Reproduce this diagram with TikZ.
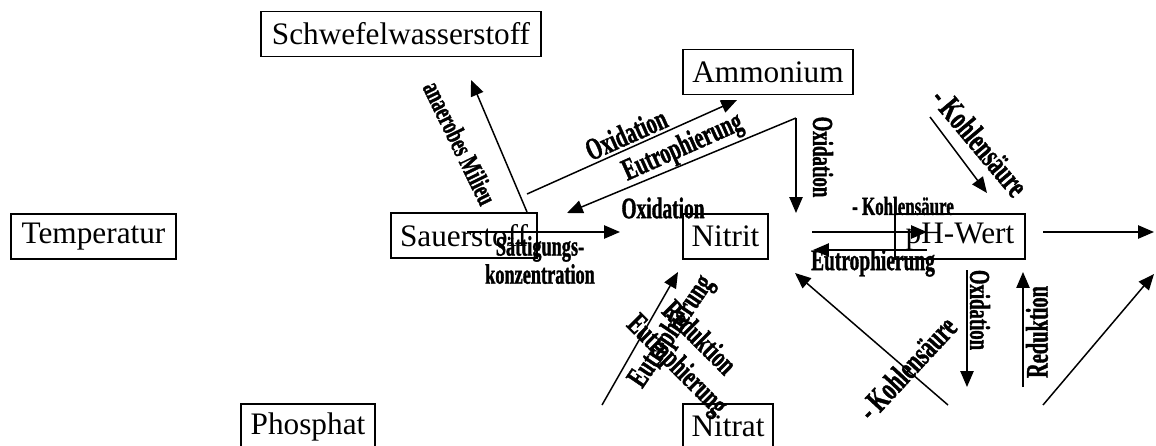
\documentclass[tikz,border=0pt]{standalone}
\usepackage{fontspec}
\setmainfont{Liberation Serif}
\newfontfamily\lblfont{Liberation Serif}[FakeStretch=0.65,FakeBold=1.2]
\usetikzlibrary{arrows.meta}

\begin{document}
\begin{tikzpicture}[x=0.2mm, y=-0.2mm,
    box/.style={draw, line width=1.1pt, font=\fontsize{17.8}{20}\selectfont, inner sep=0pt, minimum height=9mm},
    lbl/.style={font=\lblfont\bfseries\fontsize{#1}{#1}\selectfont, inner sep=0pt, align=center},
    lbl/.default=17.6,
    flow/.style={-{Triangle[length=9pt,width=7.5pt]}, line width=0.85pt}]
    \clip (0,0) rectangle (1156,445);

    % boxes
    \node (schwefel) [box, minimum width=56mm] at (401,34) {Schwefelwasserstoff};
    \node (ammon) [box, minimum width=34mm] at (768,72) {Ammonium};
    \node (temp)  [box, minimum width=33mm] at (93.5,236.5) {Temperatur};
    \node (sauer) [box, minimum width=29.2mm] at (464,235.5) {Sauerstoff};
    \node (nitrit)[box, minimum width=17mm] at (725.5,236.5) {Nitrit};
    \node (ph)    [box, minimum width=26mm] at (960,236.5) {pH-Wert};
    \node (phos)  [box, minimum width=26.8mm] at (308,426.5) {Phosphat};
    \node (nitrat)[box, minimum width=18mm] at (728,426.5) {Nitrat};

    % arrow ends
    \coordinate (milS) at (527,212);  \coordinate (milT) at (471,80);
    \coordinate (oxAS) at (527,194);  \coordinate (oxAT) at (737,100);
    \coordinate (amS)  at (796,118);  \coordinate (euAT) at (567,213);
    \coordinate (oxNT) at (796,213);
    \coordinate (oxSS) at (467,232);  \coordinate (oxST) at (620,232);
    \coordinate (khS)  at (812,232);  \coordinate (khT)  at (927,232);
    \coordinate (euS)  at (927,250);  \coordinate (euT)  at (813,250);
    \coordinate (khdS) at (930,117);  \coordinate (khdT) at (987,193);
    \coordinate (phS)  at (1043,232); \coordinate (phT)  at (1154,232);
    \coordinate (outS) at (1043,405); \coordinate (outT) at (1154,274);
    \coordinate (redS) at (1023,387); \coordinate (redT) at (1023,272);
    \coordinate (oxdS) at (967,270);  \coordinate (oxdT) at (967,387);
    \coordinate (khuS) at (948,405);  \coordinate (khuT) at (795,273);
    \coordinate (natS) at (602,405);  \coordinate (natT) at (678,272);

    \draw[flow] (milS) -- (milT); \draw[flow] (oxAS) -- (oxAT);
    \draw[flow] (amS) -- (euAT);  \draw[flow] (amS) -- (oxNT);
    \draw[flow] (oxSS) -- (oxST); \draw[flow] (khS) -- (khT);
    \draw[flow] (euS) -- (euT);   \draw[flow] (khdS) -- (khdT);
    \draw[flow] (phS) -- (phT);   \draw[flow] (outS) -- (outT);
    \draw[flow] (redS) -- (redT); \draw[flow] (oxdS) -- (oxdT);
    \draw[flow] (khuS) -- (khuT); \draw[flow] (natS) -- (natT);

    % labels
    \node (milieu) [lbl=15.9, rotate=-64] at (460,143) {anaerobes Milieu};
    \node (oxA) [lbl, rotate=24] at (626,134) {Oxidation};
    \node (euA) [lbl, rotate=24] at (683,148) {Eutrophierung};
    \node (oxN) [lbl=16.5, rotate=-90] at (823,157) {Oxidation};
    \node (oxS) [lbl=17] at (663,208) {Oxidation};
    \node (saett) [lbl=16] at (540,260) {S\"attigungs-\\konzentration};
    \node (khH) [lbl=14.8] at (903,206) {- Kohlens\"aure};
    \node (euH) [lbl=17] at (873,263) {Eutrophierung};
    \node (khD) [lbl=18.9, rotate=-50] at (980,142) {- Kohlens\"aure};
    \node (oxD) [lbl=16.4, rotate=-90] at (980,310) {Oxidation};
    \node (red) [lbl=17.9, rotate=90] at (1037,332) {Reduktion};
    \node (khU) [lbl=18.6, rotate=47] at (907,368) {- Kohlens\"aure};
    \node (euN1) [lbl, rotate=56] at (672,332) {Eutrophierung};
    \node (redN) [lbl, rotate=-45] at (700,337) {Reduktion};
    \node (euN2) [lbl, rotate=-45] at (676,366) {Eutrophierung};
  \end{tikzpicture}
\end{document}
